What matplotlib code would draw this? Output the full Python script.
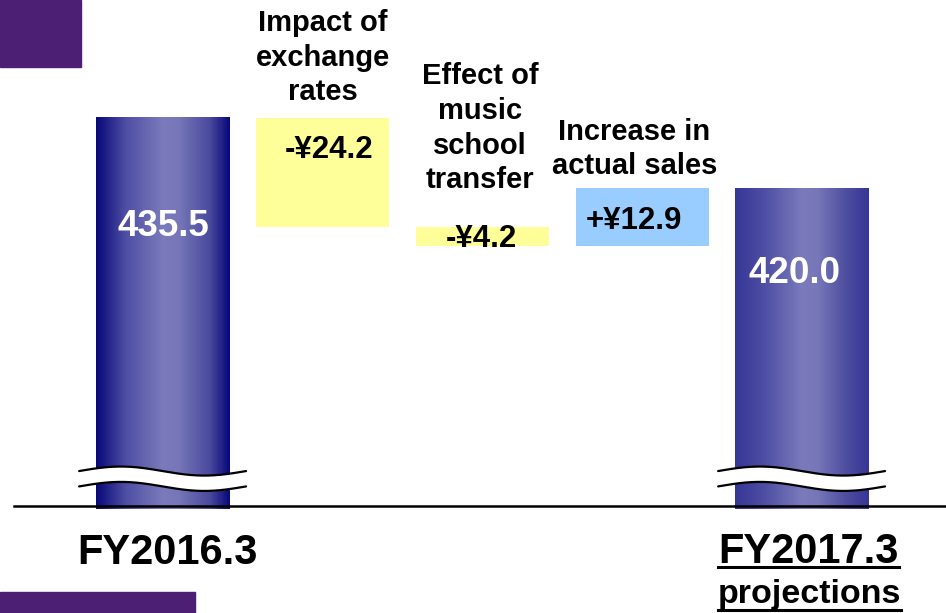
import numpy as np
import matplotlib
matplotlib.use("Agg")
import matplotlib.pyplot as plt
from matplotlib.colors import LinearSegmentedColormap
from matplotlib.patches import Rectangle
from matplotlib.lines import Line2D

# ---- data ----
totals_labels = ["FY2016.3", "FY2017.3"]
total_values = [435.5, 420.0]
change_names = ["Impact of\nexchange\nrates",
                "Effect of\nmusic\nschool\ntransfer",
                "Increase in\nactual sales"]
change_values = [-24.2, -4.2, 12.9]
change_labels = ["-\u00a524.2", "-\u00a54.2", "+\u00a512.9"]
total_value_labels = ["435.5", "420.0"]
BASE = 349.0  # broken-axis baseline

plt.rcParams['font.family'] = ['Liberation Sans', 'DejaVu Sans']
plt.rcParams['font.weight'] = 'bold'

fig = plt.figure(figsize=(9.46, 6.13), dpi=100)
ax = fig.add_axes([0, 0, 1, 1])
ax.set_axis_off()

W = 0.835
YEL = '#FFFF99'
BLUE = '#99CCFF'

def grad_bar(x, top, edge, z=2):
    cmap = LinearSegmentedColormap.from_list(
        'g', [(0, edge), (0.22, '#4E4EA4'), (0.5, '#7A7ABC'),
              (0.62, '#7676B8'), (0.85, '#4A4A9E'), (1, edge)])
    g = np.linspace(0, 1, 256).reshape(1, -1)
    ax.imshow(g, extent=[x - W / 2, x + W / 2, BASE, top], aspect='auto',
              cmap=cmap, zorder=z, interpolation='bicubic')

def brk(x):
    t = np.linspace(0, 1, 200)
    xs = x - 0.525 + t * 1.045
    up = 357.4 + 1.0 * np.sin(2 * np.pi * t)
    lo = 354.0 + 1.0 * np.sin(2 * np.pi * t)
    ax.fill_between(xs, lo, up, color='white', zorder=4, lw=0)
    ax.plot(xs, up, color='black', lw=1.6, zorder=5, solid_capstyle='round')
    ax.plot(xs, lo, color='black', lw=1.6, zorder=5, solid_capstyle='round')

# total bars
xs_tot = [0, 4]
edges = ['#07077A', '#363696']
for x, v, e in zip(xs_tot, total_values, edges):
    grad_bar(x, v, e)
    brk(x)

# change bars
level = total_values[0]
for i, d in enumerate(change_values):
    x = i + 1
    bottom = min(level, level + d)
    ax.bar(x, abs(d), bottom=bottom, width=W,
           color=YEL if d < 0 else BLUE, zorder=2, linewidth=0)
    level += d

# axis line
ax.plot([-0.933, 4.95], [BASE + 0.7, BASE + 0.7], color='black', lw=1.8, zorder=6)

# value labels in total bars
ax.text(0, 411.6, total_value_labels[0], color='white', fontsize=26.5,
        fontweight='bold', ha='center', va='center', zorder=7)
ax.text(3.955, 401.2, total_value_labels[1], color='white', fontsize=26.5,
        fontweight='bold', ha='center', va='center', zorder=7)

# change value labels
chg_pos = [(1.04, 428.4), (1.99, 408.7), (2.95, 412.7)]
for (x, y), s in zip(chg_pos, change_labels):
    ax.text(x, y, s, fontsize=22.5, fontweight='bold', ha='center',
            va='center', zorder=7)

# change names
name_pos = [(1.0, 448.8), (1.985, 433.2), (2.95, 428.6)]
for (x, y), s in zip(name_pos, change_names):
    ax.text(x, y, s, fontsize=21, fontweight='bold', ha='center',
            va='center', linespacing=1.3, zorder=7)

# category labels
ax.text(0.025, 339.2, totals_labels[0], fontsize=30, fontweight='bold',
        ha='center', va='center')
t1 = ax.text(4.04, 339.4, totals_labels[1], fontsize=30, fontweight='bold',
             ha='center', va='center')
t2 = ax.text(4.045, 330.2, "projections", fontsize=24.5, fontweight='bold',
             ha='center', va='center')

ax.set_xlim(-1.0203, 4.9014)
ax.set_ylim(326.0, 461.6)

# decorative purple blocks
fig.patches.append(Rectangle((0, 1 - 67 / 613), 81 / 946, 67 / 613,
                             transform=fig.transFigure, color='#4C1F74', zorder=0))
fig.patches.append(Rectangle((0, 0), 195 / 946, 21 / 613,
                             transform=fig.transFigure, color='#4C1F74', zorder=0))

# underlines
fig.canvas.draw()
r = fig.canvas.get_renderer()
H = fig.bbox.height
for t, ypix in [(t1, 567), (t2, 610)]:
    bb = t.get_window_extent(r)
    yy = (H - ypix) / H
    fig.lines.append(Line2D([bb.x0 / fig.bbox.width, bb.x1 / fig.bbox.width],
                            [yy, yy], transform=fig.transFigure,
                            color='black', lw=2.2))

fig.savefig('out.png', dpi=100)
